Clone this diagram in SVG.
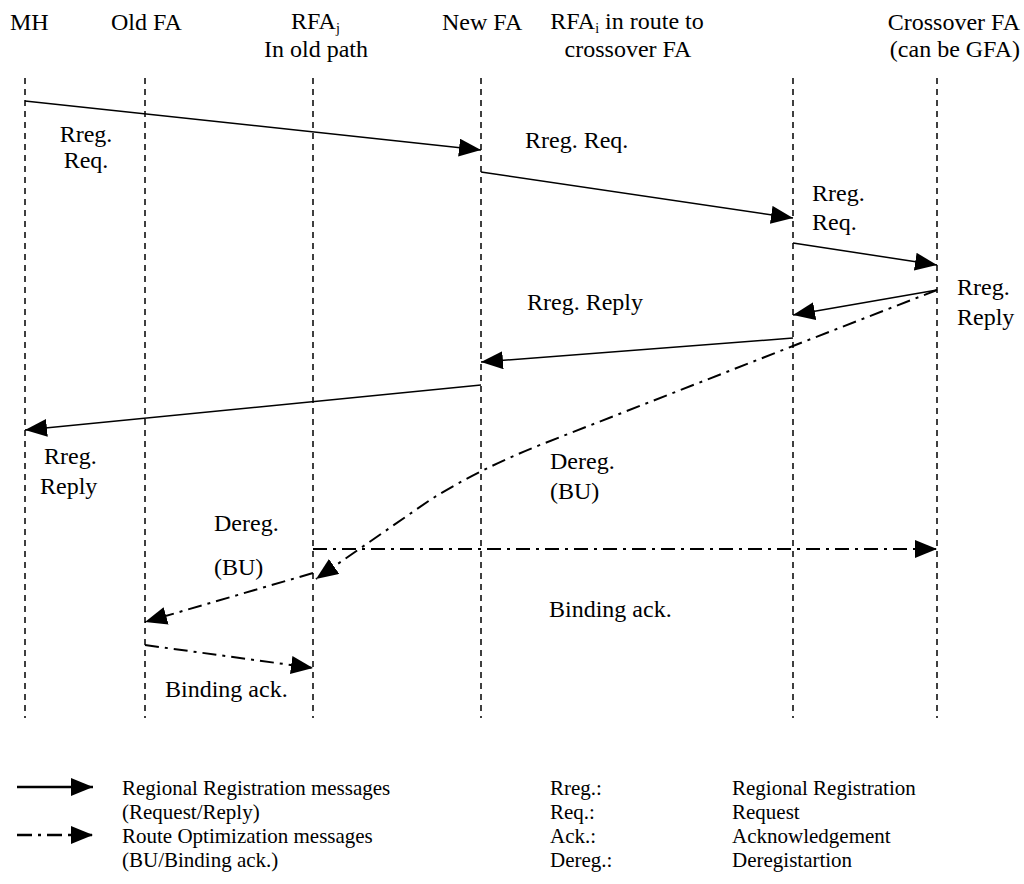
<svg xmlns="http://www.w3.org/2000/svg" width="1024" height="884" viewBox="0 0 1024 884" font-family="'Liberation Serif', 'Times New Roman', 'DejaVu Serif', serif" font-size="24">
<defs>
<style>
.t{font-family:"Liberation Serif","Times New Roman","DejaVu Serif",serif;font-size:24px;fill:#000}
.lg{font-family:"Liberation Serif","Times New Roman","DejaVu Serif",serif;font-size:21px;fill:#000}
.ll{stroke:#000;stroke-width:1.5;stroke-dasharray:6 5;fill:none}
.sol{stroke:#000;stroke-width:1.5;fill:none;marker-end:url(#ah)}
.dd{stroke:#000;stroke-width:2;stroke-dasharray:14 6 3 6;fill:none;marker-end:url(#ah)}
.sub{font-size:14px}
</style>
<marker id="ah" markerUnits="userSpaceOnUse" markerWidth="24" markerHeight="20" refX="22" refY="9" orient="auto">
<path d="M0,0 L22,9 L0,18 z" fill="#000"/>
</marker>
</defs>
<rect width="1024" height="884" fill="#fff"/>
<g id="node-mh">
<text class="t" x="10" y="30">MH</text>
<line class="ll" x1="25" y1="78" x2="25" y2="718"/>
</g>
<g id="node-oldfa">
<text class="t" x="111" y="30">Old FA</text>
<line class="ll" x1="145" y1="78" x2="145" y2="718"/>
</g>
<g id="node-rfaj">
<text class="t" x="291" y="29">RFA<tspan class="sub" dy="4">j</tspan></text>
<text class="t" x="316" y="57" text-anchor="middle">In old path</text>
<line class="ll" x1="313" y1="78" x2="313" y2="718"/>
</g>
<g id="node-newfa">
<text class="t" x="442" y="30">New FA</text>
<line class="ll" x1="481" y1="78" x2="481" y2="718"/>
</g>
<g id="node-rfai">
<text class="t" x="627" y="29" text-anchor="middle">RFA<tspan class="sub" dy="4">i</tspan><tspan dy="-4"> in route to</tspan></text>
<text class="t" x="628" y="57" text-anchor="middle">crossover FA</text>
<line class="ll" x1="793" y1="78" x2="793" y2="718"/>
</g>
<g id="node-crossover">
<text class="t" x="1020" y="30" text-anchor="end">Crossover FA</text>
<text class="t" x="1020" y="57" text-anchor="end">(can be GFA)</text>
<line class="ll" x1="937" y1="78" x2="937" y2="718"/>
</g>
<g id="connectors">
<line class="sol" x1="25" y1="101" x2="481" y2="150"/>
<line class="sol" x1="481" y1="172" x2="793" y2="218"/>
<line class="sol" x1="793" y1="243" x2="937" y2="265"/>
<line class="sol" x1="937" y1="290" x2="793" y2="315"/>
<line class="sol" x1="793" y1="338" x2="481" y2="362"/>
<line class="sol" x1="481" y1="385" x2="25" y2="430"/>
<path class="dd" d="M937,290 L793,346 L545,443 Q481,468 430,500 L316,579"/>
<line class="dd" x1="313" y1="549" x2="937" y2="549"/>
<line class="dd" x1="313" y1="573" x2="145" y2="622"/>
<line class="dd" x1="145" y1="645" x2="313" y2="668"/>
</g>
<g id="labels">
<text class="t" x="86" y="142" text-anchor="middle">Rreg.</text>
<text class="t" x="86" y="168" text-anchor="middle">Req.</text>
<text class="t" x="525" y="148">Rreg. Req.</text>
<text class="t" x="812" y="201">Rreg.</text>
<text class="t" x="812" y="230">Req.</text>
<text class="t" x="527" y="310">Rreg. Reply</text>
<text class="t" x="957" y="295">Rreg.</text>
<text class="t" x="957" y="325">Reply</text>
<text class="t" x="44" y="464">Rreg.</text>
<text class="t" x="40" y="494">Reply</text>
<text class="t" x="550" y="469">Dereg.</text>
<text class="t" x="550" y="499">(BU)</text>
<text class="t" x="214" y="531">Dereg.</text>
<text class="t" x="214" y="575">(BU)</text>
<text class="t" x="549" y="617">Binding ack.</text>
<text class="t" x="165" y="697">Binding ack.</text>
</g>
<g id="legend">
<line x1="17" y1="787" x2="93" y2="787" stroke="#000" stroke-width="2.5" marker-end="url(#ah)"/>
<line x1="17" y1="835" x2="93" y2="835" stroke="#000" stroke-width="2.5" stroke-dasharray="15 6 3 6" marker-end="url(#ah)"/>
<text class="lg" x="122" y="795">Regional Registration messages</text>
<text class="lg" x="122" y="819">(Request/Reply)</text>
<text class="lg" x="122" y="843">Route Optimization messages</text>
<text class="lg" x="122" y="867">(BU/Binding ack.)</text>
<text class="lg" x="550" y="795">Rreg.:</text>
<text class="lg" x="550" y="819">Req.:</text>
<text class="lg" x="550" y="843">Ack.:</text>
<text class="lg" x="550" y="867">Dereg.:</text>
<text class="lg" x="732" y="795">Regional Registration</text>
<text class="lg" x="732" y="819">Request</text>
<text class="lg" x="732" y="843">Acknowledgement</text>
<text class="lg" x="732" y="867">Deregistartion</text>
</g>
</svg>
